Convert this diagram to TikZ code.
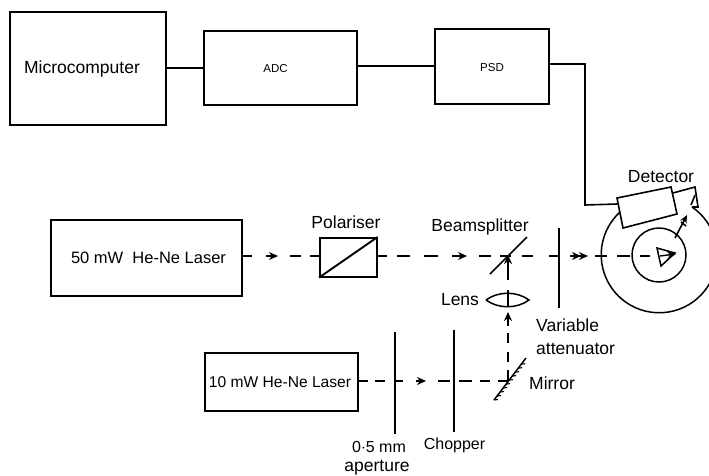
\documentclass[tikz,border=0pt]{standalone}
\usepackage{fontspec}
\setmainfont{Liberation Sans}
\usetikzlibrary{arrows.meta,decorations.pathreplacing}
\tikzset{
 unit/.style={draw,line width=1.6pt,inner sep=0pt,anchor=north west},
 wire/.style={line width=1.6pt},
 beam/.style={line width=1.6pt},
 tip/.style={-{Stealth[length=9pt,width=8pt]},line width=1.4pt},
 optic/.style={line width=1.5pt},
 lbl/.style={inner sep=0pt,font=\fontsize{17.5}{20}\selectfont},
 small/.style={inner sep=0pt,font=\fontsize{11.5}{13}\selectfont}
}
\begin{document}
\begin{tikzpicture}[x=1pt,y=-1pt]
\useasboundingbox (0,0) rectangle (709,475);
\clip (0,0) rectangle (709,475);
% boxes
\node[unit,minimum width=156pt,minimum height=113pt] (micro) at (9,11) {};
\node[unit,minimum width=153pt,minimum height=74pt] (adc) at (203,30) {};
\node[unit,minimum width=114pt,minimum height=75pt] (psd) at (434,28) {};
\node[unit,minimum width=191pt,minimum height=76pt] (l50) at (50,219) {};
\node[unit,minimum width=153pt,minimum height=58pt] (l10) at (204,352) {};
\node[unit,minimum width=57pt,minimum height=39pt] (pol) at (319,237) {};
\draw[line width=1.9pt] (pol.south west) -- (pol.north east);
% box labels
\node[lbl] (tm) at (82,69) {Microcomputer};
\node[small] (ta) at (275.5,69) {ADC};
\node[small] (tp) at (492,68) {PSD};
\node[inner sep=0pt,font=\fontsize{16.5}{19}\selectfont] (t50) at (148.5,258) {50 mW\ \ He-Ne Laser};
\node[inner sep=0pt,font=\fontsize{15.6}{18}\selectfont] (t10) at (280,382) {10 mW He-Ne Laser};
% wires
\coordinate (w1) at (585,64);
\coordinate (w2) at (585,205);
\coordinate (d1) at (617,204);
\draw[wire] (micro.east |- 0,68) -- (adc.west |- 0,68);
\draw[wire] (adc.east |- 0,66) -- (psd.west |- 0,66);
\draw[wire] (psd.east |- w1) -- (w1) -- (w2) -- (d1);
% rings
\coordinate (c) at (659,255);
\draw[line width=1.5pt] (620,212) arc[start angle=227.5,delta angle=-283,radius=58];
\draw[line width=1.5pt] (c) circle[radius=27];
% detector
\draw[line width=1.6pt,fill=white] (617,198) -- (671,187) -- (677,214) -- (623,228) -- cycle;
\draw[wire] (673,193) -- (695,187) -- (698,207) -- (692,207);
\draw[wire] (695,195) -- (691,205);
% beams
\coordinate (bs) at (508,256);
\coordinate (mi) at (508,381);
\foreach \a/\b in {241/252,290/301,310/319,376/387,397/410,424/438,479/491,500/511,522/533,549/559,595/607,617/630,640/650}
  \draw[beam] (\a,256) -- (\b,256);
\foreach \a/\b in {357/368,375/385,395/403,438/450,459/472,480/490,498/508}
  \draw[beam] (\a,381) -- (\b,381);
\foreach \a/\b in {370/381,352/362,333/343,290/307,265/280}
  \draw[beam] (508,\a) -- (508,\b);
% arrowheads on beams
\draw[tip] (266,256) -- (278,256);
\draw[tip] (452,256) -- (467,256);
\draw[tip] (416,381) -- (426,381);
\draw[tip] (570,256) -- (581,256);
\draw[tip] (577,256) -- (588,256);
\draw[tip] (660,256) -- (676,254);
\draw[tip] (508,326) -- (508,312);
\draw[tip] (508,266) -- (508,255);
% optics
\coordinate (bs1) at (490,274); \coordinate (bs2) at (527,237);
\draw[optic] (bs1) -- (bs2);
\coordinate (at1) at (559,228); \coordinate (at2) at (559,308);
\draw[optic] (at1) -- (at2);
\coordinate (ap1) at (395,332); \coordinate (ap2) at (395,434);
\draw[optic] (ap1) -- (ap2);
\coordinate (ch1) at (454,330); \coordinate (ch2) at (454,432);
\draw[optic] (ch1) -- (ch2);
% lens
\coordinate (lz) at (486,300); \coordinate (ly) at (529,300);
\draw[optic] (lz) .. controls (498,291) and (517,291) .. (ly) .. controls (517,309) and (498,309) .. (lz);
% mirror
\coordinate (m1) at (494,400); \coordinate (m2) at (526,358);
\draw[optic] (m1) -- (m2);
\draw[line width=1.1pt,decorate,decoration={border,segment length=5pt,amplitude=4pt,angle=45,mirror}] (m1) -- (m2);
% detector arrow
\draw[wire,-{Stealth[length=8pt,width=7pt]}] (675,238) -- (687,215);
\draw[wire] (681,222) -- (686,226);
\draw[line width=1.5pt] (657,248) -- (675,253) -- (661,266) -- cycle;
% labels
\node[lbl] (t1) at (661,177) {Detector};
\node[lbl] (t2) at (346,222) {Polariser};
\node[lbl] (t3) at (480,227) {Beamsplitter};
\node[lbl] (t4) at (460,300) {Lens};
\node[lbl,anchor=west,align=left] (t5) at (536,337) {Variable\\[3pt]attenuator};
\node[lbl,anchor=west] (t6) at (529,383) {Mirror};
\node[inner sep=0pt,font=\fontsize{16}{18}\selectfont] (t7) at (379,447) {0$\cdot$5 mm};
\node[lbl] (t9) at (377,468) {aperture};
\node[inner sep=0pt,font=\fontsize{16}{19}\selectfont] (t8) at (454.5,445) {Chopper};
\end{tikzpicture}
\end{document}
